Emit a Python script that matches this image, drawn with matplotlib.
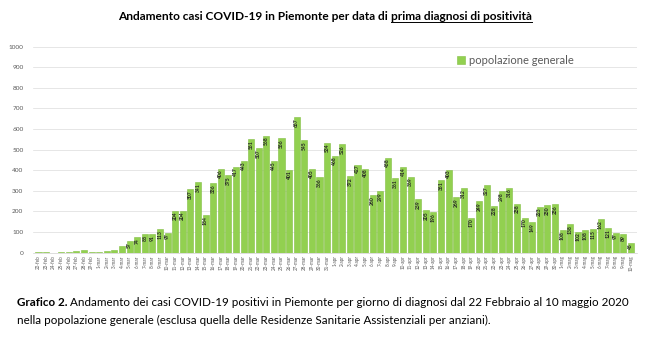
import numpy as np
import matplotlib.pyplot as plt
from matplotlib.lines import Line2D

plt.rcParams['font.family'] = ['Lato', 'DejaVu Sans']

# giorni di prima diagnosi, 22 febbraio - 10 maggio 2020
mesi = [('feb', 22, 29), ('mar', 1, 31), ('apr', 1, 30), ('mag', 1, 10)]
giorni = [f'{d}-{m}' for m, a, b in mesi for d in range(a, b + 1)]

casi_feb = [1, 1, 0, 1, 2, 10, 11, 3]
casi_mar = [3, 9, 14, 31, 57, 74, 88, 91, 113, 97, 204, 204, 307, 341, 184, 336,
            406, 375, 417, 443, 551, 507, 568, 445, 556, 401, 657, 545, 405, 366, 534]
casi_apr = [468, 526, 372, 427, 408, 280, 299, 458, 361, 414, 369, 259, 205, 196, 351,
            403, 269, 312, 170, 249, 327, 228, 298, 316, 238, 170, 149, 223, 230, 236]
casi_mag = [108, 138, 102, 108, 115, 162, 121, 97, 89, 45]
casi = casi_feb + casi_mar + casi_apr + casi_mag

W, H = 650, 346
fig = plt.figure(figsize=(6.5, 3.46), dpi=100)
ax = fig.add_axes([0.051, 0.27, 0.929, 0.595])

x = np.arange(len(casi))
ax.bar(x, casi, width=0.8, color='#92D050', edgecolor='#82BE44', linewidth=0.4,
       label='popolazione generale')
for xi, v in zip(x, casi):
    if v >= 40:
        ax.text(xi, v - 5, str(v), rotation=90, ha='center', va='top',
                fontsize=3.6, color='#222222', fontweight='bold')

ax.set_ylim(0, 1000)
ax.set_xlim(-0.7, len(casi) - 0.2)
ax.set_yticks(range(0, 1001, 100))
ax.yaxis.grid(True, color='#dcdcdc', linewidth=0.5)
ax.set_axisbelow(True)
for s in ax.spines.values():
    s.set_visible(False)
ax.spines['bottom'].set_visible(True)
ax.spines['bottom'].set_color('#d0d0d0')
ax.spines['bottom'].set_linewidth(0.5)
ax.tick_params(axis='y', length=0, labelsize=4.6, labelcolor='#595959', pad=7)
ax.set_xticks(x)
ax.set_xticklabels(giorni, rotation=90, fontsize=3.3, color='#595959')
ax.tick_params(axis='x', length=0, pad=2)

ax.legend(loc='center left', bbox_to_anchor=(0.685, 0.935), frameon=False,
          fontsize=8, handlelength=0.7, handleheight=0.7, handletextpad=0.4,
          labelcolor='#595959')

# titolo con parte sottolineata
fig.canvas.draw()
r = fig.canvas.get_renderer()
p1 = 'Andamento casi COVID-19 in Piemonte per data di'
p2 = 'prima diagnosi di positività'
ty = 1 - 17 / H
t1 = fig.text(0, ty, p1, fontsize=8.6, fontweight='bold', va='center')
t2 = fig.text(0, ty, p2, fontsize=8.6, fontweight='bold', va='center')
ta = fig.text(0, 0, 'x x', fontsize=8.6, fontweight='bold')
tb = fig.text(0, 0, 'xx', fontsize=8.6, fontweight='bold')
sp = ta.get_window_extent(r).width - tb.get_window_extent(r).width
ta.remove()
tb.remove()
w1 = t1.get_window_extent(r).width
w2 = t2.get_window_extent(r).width
x0 = (W - (w1 + sp + w2)) / 2
t1.set_x(x0 / W)
t2.set_x((x0 + w1 + sp) / W)
fig.canvas.draw()
bb = t2.get_window_extent(r)
uy = (bb.y0 + 1) / H
fig.add_artist(Line2D([bb.x0 / W, bb.x1 / W], [uy, uy], color='black', linewidth=0.7))

# didascalia
cy1 = 1 - 302 / H
cy2 = 1 - 320 / H
g = fig.text(17 / W, cy1, 'Grafico 2.', fontsize=8.4, fontweight='bold', va='center')
fig.canvas.draw()
gw = g.get_window_extent(r).width
fig.text((17 + gw + 3) / W, cy1,
         'Andamento dei casi COVID-19 positivi in Piemonte per giorno di diagnosi dal 22 Febbraio al 10 maggio 2020',
         fontsize=8.4, va='center')
fig.text(17 / W, cy2,
         'nella popolazione generale (esclusa quella delle Residenze Sanitarie Assistenziali per anziani).',
         fontsize=8.4, va='center')

fig.savefig('out.png', dpi=100)
